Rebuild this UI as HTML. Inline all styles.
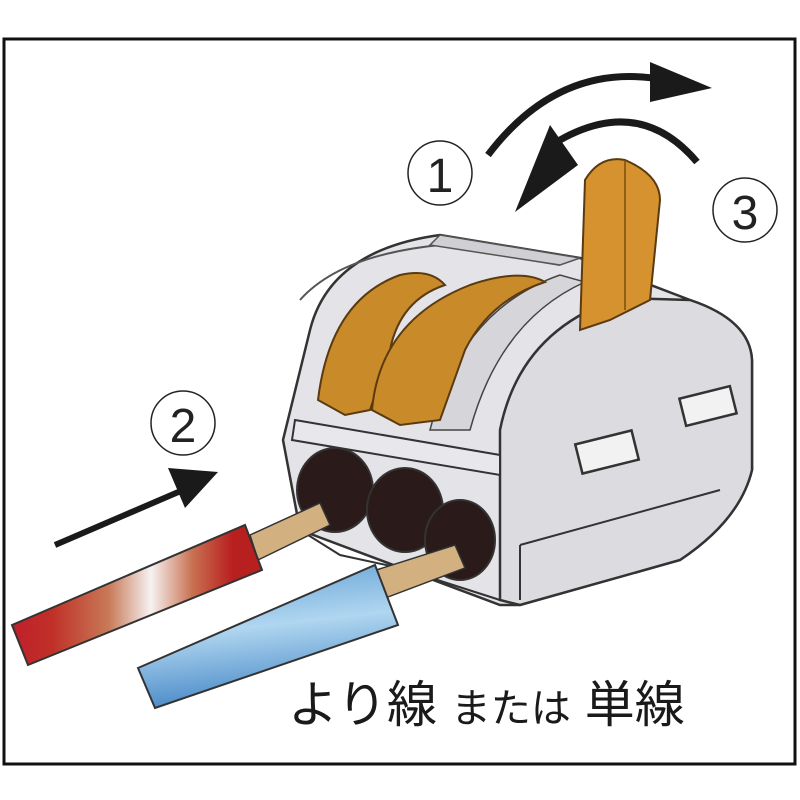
<!DOCTYPE html>
<html><head><meta charset="utf-8"><style>
html,body{margin:0;padding:0;background:#fff;}
svg{display:block;}
</style></head><body>
<svg width="800" height="800" viewBox="0 0 800 800" xmlns="http://www.w3.org/2000/svg">
<defs>
<linearGradient id="red" gradientUnits="userSpaceOnUse" x1="15" y1="0" x2="262" y2="0">
<stop offset="0" stop-color="#c0202a"/><stop offset="0.15" stop-color="#c03028"/><stop offset="0.38" stop-color="#c87a58"/><stop offset="0.55" stop-color="#f6f2f2"/><stop offset="0.72" stop-color="#c87050"/><stop offset="0.88" stop-color="#b82020"/><stop offset="1" stop-color="#b82020"/>
</linearGradient>
<linearGradient id="blue" x1="0" y1="0" x2="0.2" y2="1">
<stop offset="0" stop-color="#5a9ad0"/><stop offset="0.5" stop-color="#b0d6f0"/><stop offset="1" stop-color="#4a8ac8"/>
</linearGradient>
</defs>
<rect x="4" y="39" width="791" height="725" fill="#fff" stroke="#111" stroke-width="3"/>

<!-- arrows top -->
<path d="M488 155 Q560 60 665 80" fill="none" stroke="#1a1a1a" stroke-width="7"/>
<polygon points="650,62 712,88 650,102" fill="#1a1a1a"/>
<path d="M697 162 Q640 95 560 140" fill="none" stroke="#1a1a1a" stroke-width="7"/>
<polygon points="550,125 515,212 578,165" fill="#1a1a1a"/>
<!-- arrow 2 -->
<line x1="55" y1="545" x2="190" y2="487" stroke="#1a1a1a" stroke-width="6"/>
<polygon points="168,468 218,472 185,508" fill="#1a1a1a"/>

<g font-family="Liberation Sans, sans-serif" fill="#222" text-anchor="middle">
<circle cx="440" cy="173" r="32" fill="none" stroke="#222" stroke-width="1.5"/><text x="440" y="192" font-size="48">1</text>
<circle cx="183" cy="423" r="32" fill="none" stroke="#222" stroke-width="1.5"/><text x="183" y="442" font-size="48">2</text>
<circle cx="745" cy="210" r="32" fill="none" stroke="#222" stroke-width="1.5"/><text x="745" y="229" font-size="48">3</text>
</g>

<!-- connector body -->
<path d="M310 330 Q330 250 440 235 L580 258 L690 300 Q750 320 752 360 L752 470 Q740 520 680 560 L520 605 L500 605 L300 530 L283 440 Z" fill="#e4e4e8" stroke="#333" stroke-width="2.5"/>
<path d="M300 300 Q340 255 440 245 L560 265" fill="none" stroke="#555" stroke-width="2"/>
<path d="M500 430 Q520 330 620 298 L690 300 Q750 320 752 360 L752 470 Q740 520 680 560 L520 605 L500 600 Z" fill="#dcdce0" stroke="#333" stroke-width="2.5"/>
<line x1="520" y1="545" x2="720" y2="490" stroke="#333" stroke-width="2"/>
<line x1="520" y1="545" x2="520" y2="600" stroke="#333" stroke-width="2"/>
<rect x="578" y="437" width="58" height="30" fill="#f2f2f2" stroke="#333" stroke-width="2.5" transform="rotate(-14 607 452)"/>
<rect x="682" y="392" width="52" height="28" fill="#f2f2f2" stroke="#333" stroke-width="2.5" transform="rotate(-14 708 406)"/>
<path d="M440 235 L580 258 L560 265 L430 245 Z" fill="#d0d0d4" stroke="#555" stroke-width="1.5"/>
<path d="M430 430 Q460 310 560 275 L585 282 Q500 320 470 430 Z" fill="#d6d6da" stroke="#444" stroke-width="1.5"/>
<path d="M318 400 Q330 300 400 275 Q430 268 445 285 Q400 300 390 350 L370 410 L345 415 Z" fill="#c98a2a" stroke="#5a3a10" stroke-width="2"/>
<path d="M372 410 Q380 320 470 285 Q520 268 545 282 Q490 300 465 350 L440 420 L400 425 Z" fill="#c98a2a" stroke="#5a3a10" stroke-width="2"/>
<path d="M580 330 L585 180 Q600 155 625 160 Q660 175 660 200 L650 300 L610 320 Z" fill="#d5922e" stroke="#5a3a10" stroke-width="2"/>
<line x1="625" y1="160" x2="625" y2="310" stroke="#7a5010" stroke-width="1.5"/>
<path d="M295 420 L500 455 L500 475 L292 440 Z" fill="#e8e8ec" stroke="#333" stroke-width="2"/>
<ellipse cx="335" cy="490" rx="38" ry="42" fill="#2a1a1a" stroke="#333" stroke-width="2"/>
<ellipse cx="405" cy="510" rx="38" ry="42" fill="#2a1a1a" stroke="#333" stroke-width="2"/>
<ellipse cx="460" cy="540" rx="35" ry="40" fill="#2a1a1a" stroke="#333" stroke-width="2"/>
<path d="M300 530 L340 555 L400 568 L500 600" fill="none" stroke="#333" stroke-width="2"/>

<!-- red wire -->
<polygon points="250,535 320,503 330,525 258,560" fill="#d2b080" stroke="#333" stroke-width="1.5"/>
<polygon points="12,625 245,525 262,570 28,665" fill="url(#red)" stroke="#333" stroke-width="2"/>
<!-- blue wire -->
<polygon points="370,572 455,545 465,568 380,600" fill="#d2b080" stroke="#333" stroke-width="1.5"/>
<polygon points="138,668 375,565 398,625 155,708" fill="url(#blue)" stroke="#333" stroke-width="2"/>

<text x="288" y="722" font-family="Liberation Sans, 'Noto Sans CJK JP', sans-serif" font-size="50" fill="#1a1a1a">より線 <tspan font-size="40">または</tspan> 単線</text>
</svg>
</body></html>
